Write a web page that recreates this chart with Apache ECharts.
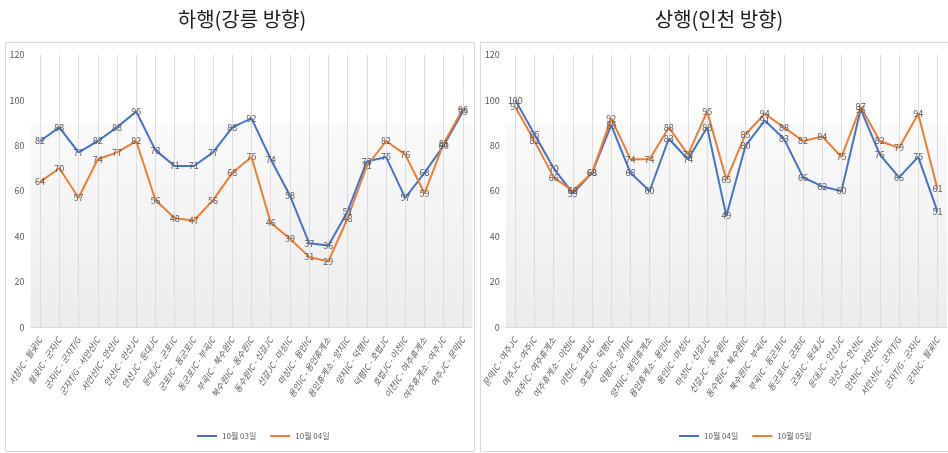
<!DOCTYPE html>
<html>
<head>
<meta charset="utf-8">
<script src="https://cdn.jsdelivr.net/npm/echarts@6/dist/echarts.min.js"></script>
<style>
  html, body { margin: 0; padding: 0; background: #ffffff; }
  #wrap { position: relative; width: 948px; height: 453px; overflow: hidden; }
  #down { position: absolute; left: 0; top: 0; width: 476px; height: 453px; }
  #up { position: absolute; left: 476px; top: 0; width: 472px; height: 453px; }
</style>
</head>
<body>
<div id="wrap">
  <div id="down"></div>
  <div id="up"></div>
</div>
<script>
// 하행 (강릉 방향) 구간
const downSections = [
  '서창IC - 월곶IC', '월곶IC - 군자IC', '군자IC - 군자T/G', '군자T/G - 서안산IC',
  '서안산IC - 안산IC', '안산IC - 안산JC', '안산JC - 둔대JC', '둔대JC - 군포IC',
  '군포IC - 동군포IC', '동군포IC - 부곡IC', '부곡IC - 북수원IC', '북수원IC - 동수원IC',
  '동수원IC - 신갈JC', '신갈JC - 마성IC', '마성IC - 용인IC', '용인IC - 용인휴게소',
  '용인휴게소 - 양지IC', '양지IC - 덕평IC', '덕평IC - 호법JC', '호법JC - 이천IC',
  '이천IC - 여주휴게소', '여주휴게소 - 여주JC', '여주JC - 문막IC'
];
const downOct03 = [82, 88, 77, 82, 88, 95, 78, 71, 71, 77, 88, 92, 74, 58, 37, 36, 51, 73, 75, 57, 68, 80, 95];
const downOct04 = [64, 70, 57, 74, 77, 82, 56, 48, 47, 56, 68, 75, 46, 39, 31, 29, 48, 71, 82, 76, 59, 81, 96];

// 상행 (인천 방향) 구간
const upSections = [
  '문막IC - 여주JC', '여주JC - 여주IC', '여주IC - 여주휴게소', '여주휴게소 - 이천IC',
  '이천IC - 호법JC', '호법JC - 덕평IC', '덕평IC - 양지IC', '양지IC - 용인휴게소',
  '용인휴게소 - 용인IC', '용인IC - 마성IC', '마성IC - 신갈JC', '신갈JC - 동수원IC',
  '동수원IC - 북수원IC', '북수원IC - 부곡IC', '부곡IC - 동군포IC', '동군포IC - 군포IC',
  '군포IC - 둔대JC', '둔대JC - 안산JC', '안산JC - 안산IC', '안산IC - 서안산IC',
  '서안산IC - 군자T/G', '군자T/G - 군자IC', '군자IC - 월곶IC'
];
const upOct04 = [100, 85, 70, 59, 68, 89, 68, 60, 83, 74, 88, 49, 80, 91, 83, 66, 62, 60, 96, 76, 66, 75, 51];
const upOct05 = [97, 82, 66, 60, 68, 92, 74, 74, 88, 76, 95, 65, 85, 94, 88, 82, 84, 75, 97, 82, 79, 94, 61];

const yTicks = [0, 20, 40, 60, 80, 100, 120];

const BLUE = '#4472C4';
const ORANGE = '#ED7D31';
const TEXT = '#595959';
const NARROW = '"Liberation Sans Narrow", "Noto Sans CJK KR", sans-serif';

function lineSeries(name, data, color) {
  return {
    name: name,
    type: 'line',
    data: data,
    symbol: 'circle',
    symbolSize: 1,
    showSymbol: true,
    itemStyle: { color: color },
    lineStyle: { color: color, width: 2 },
    label: {
      show: true,
      position: 'inside',
      color: TEXT,
      fontSize: 9,
      fontFamily: NARROW
    },
    emphasis: { disabled: true },
    animation: false
  };
}

function buildOption(title, sections, nameA, dataA, nameB, dataB, layout) {
  return {
    animation: false,
    title: {
      text: title,
      left: layout.titleX,
      top: 4,
      textAlign: 'center',
      textStyle: {
        fontFamily: '"Noto Sans CJK KR", sans-serif',
        fontWeight: 'normal',
        fontSize: 20,
        color: '#1a1a1a'
      }
    },
    graphic: [{
      type: 'rect',
      shape: { x: layout.boxX + 0.5, y: 42.5, width: layout.boxW, height: 409 },
      style: { fill: 'none', stroke: '#d9d9d9', lineWidth: 1 },
      silent: true,
      z: -1
    }],
    legend: {
      bottom: 8,
      left: layout.legendX,
      icon: 'rect',
      itemWidth: 20,
      itemHeight: 2,
      itemGap: 14,
      textStyle: { color: TEXT, fontSize: 8, fontFamily: '"Noto Sans CJK KR", sans-serif' },
      data: [nameA, nameB]
    },
    grid: {
      left: layout.gridLeft,
      right: layout.gridRight,
      top: 54.7,
      bottom: 125.7,
      show: true,
      borderWidth: 0,
      backgroundColor: {
        type: 'linear', x: 0, y: 0, x2: 0, y2: 1,
        colorStops: [
          { offset: 0, color: '#ffffff' },
          { offset: 0.249, color: '#ffffff' },
          { offset: 0.25, color: '#fafafa' },
          { offset: 1, color: '#ececec' }
        ]
      }
    },
    xAxis: {
      type: 'category',
      data: sections,
      boundaryGap: true,
      axisLine: { lineStyle: { color: '#d9d9d9' } },
      axisTick: { show: false },
      splitLine: { show: true, alignWithLabel: true, lineStyle: { color: '#dcdcdc', width: 1 } },
      axisLabel: {
        interval: 0,
        rotate: 57,
        fontSize: 8.5,
        fontStyle: 'italic',
        color: TEXT,
        margin: 11,
        fontFamily: '"Noto Sans CJK KR", sans-serif'
      }
    },
    yAxis: {
      type: 'value',
      min: yTicks[0],
      max: yTicks[yTicks.length - 1],
      interval: yTicks[1] - yTicks[0],
      axisLine: { show: false },
      axisTick: { show: false },
      splitLine: { show: false },
      axisLabel: { fontSize: 9, color: TEXT, margin: 6, fontFamily: NARROW }
    },
    series: [
      lineSeries(nameA, dataA, BLUE),
      lineSeries(nameB, dataB, ORANGE)
    ]
  };
}

const downChart = echarts.init(document.getElementById('down'), null, { renderer: 'canvas' });
downChart.setOption(buildOption('하행(강릉 방향)', downSections,
  '10월 03일', downOct03, '10월 04일', downOct04,
  { titleX: 237, boxX: 5, boxW: 469, legendX: 192, gridLeft: 30.5, gridRight: 3.5 }));

const upChart = echarts.init(document.getElementById('up'), null, { renderer: 'canvas' });
upChart.setOption(buildOption('상행(인천 방향)', upSections,
  '10월 04일', upOct04, '10월 05일', upOct05,
  { titleX: 238, boxX: 4, boxW: 470, legendX: 198, gridLeft: 29.7, gridRight: 1 }));
</script>
</body>
</html>
